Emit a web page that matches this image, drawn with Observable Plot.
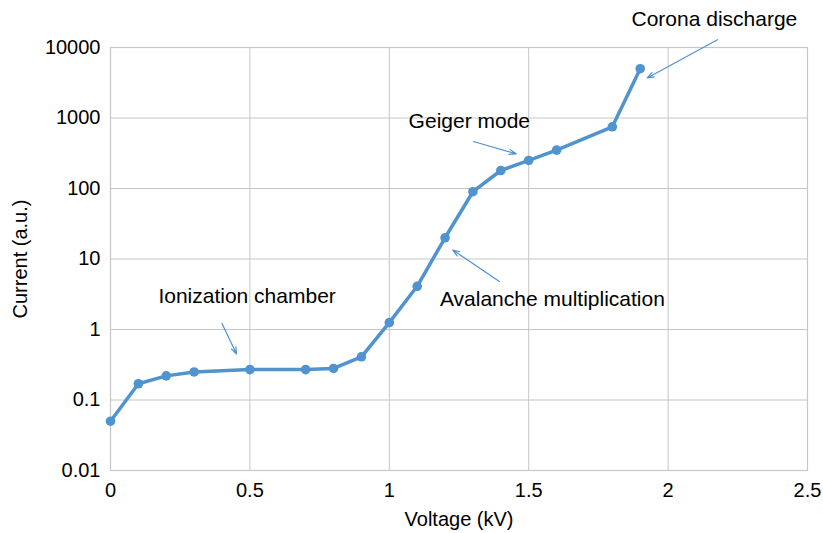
<!DOCTYPE html>
<html>
<head>
<meta charset="utf-8">
<script src="https://cdn.jsdelivr.net/npm/d3@7"></script>
<script src="https://cdn.jsdelivr.net/npm/@observablehq/plot@0.6"></script>
<style>
  html, body { margin: 0; padding: 0; background: #fff; }
  #chart svg { display: block; font-family: "Liberation Sans", Arial, Helvetica, sans-serif; }
</style>
</head>
<body>
<div id="chart"></div>
<script>
// Current–voltage characteristic of a gas-filled detector
const voltage = [0, 0.1, 0.2, 0.3, 0.5, 0.7, 0.8, 0.9, 1.0, 1.1, 1.2, 1.3, 1.4, 1.5, 1.6, 1.8, 1.9];
const current = [0.05, 0.17, 0.22, 0.25, 0.27, 0.27, 0.28, 0.41, 1.25, 4.1, 20, 90, 180, 250, 350, 750, 5000];

const xTicks = [0, 0.5, 1, 1.5, 2, 2.5];
const yTicks = [0.01, 0.1, 1, 10, 100, 1000, 10000];

// Region labels and their pointer arrows (data coordinates)
const labelText = ["Ionization chamber", "Geiger mode", "Avalanche multiplication", "Corona discharge"];
const labelX = [0.49, 1.287, 1.585, 2.166];
const labelY = [3.0, 890, 2.66, 25000];
const arrowX1 = [0.40, 1.302, 1.395, 2.177];
const arrowY1 = [1.22, 464, 4.8, 12900];
const arrowX2 = [0.452, 1.455, 1.228, 1.925];
const arrowY2 = [0.45, 310, 13.4, 3700];

const points = voltage.map((v, i) => ({v, c: current[i]}));
const labels = labelText.map((t, i) => ({t, x: labelX[i], y: labelY[i]}));
const arrows = arrowX1.map((x1, i) => ({x1, y1: arrowY1[i], x2: arrowX2[i], y2: arrowY2[i]}));

const blue = "#4f93cf";
const gridColor = "#c6c6c6";
const fmt = d => String(d);

const chart = Plot.plot({
  width: 823,
  height: 533,
  marginLeft: 110,
  marginRight: 16,
  marginTop: 47,
  marginBottom: 63,
  style: {fontSize: "20px", fontFamily: "Liberation Sans, Arial, Helvetica, sans-serif", color: "#000"},
  x: {domain: [0, 2.5]},
  y: {type: "log", domain: [0.01, 10000]},
  marks: [
    Plot.gridX(xTicks, {stroke: gridColor, strokeOpacity: 1, strokeWidth: 1}),
    Plot.gridY(yTicks, {stroke: gridColor, strokeOpacity: 1, strokeWidth: 1}),
    Plot.frame({stroke: gridColor, strokeWidth: 1.2}),
    Plot.axisX({ticks: xTicks, tickFormat: fmt, tickSize: 0, tickPadding: 12, fontSize: 20,
      label: "Voltage (kV)", labelAnchor: "center", labelOffset: 55, labelArrow: "none"}),
    Plot.axisY({ticks: yTicks, tickFormat: fmt, tickSize: 0, tickPadding: 10, fontSize: 20,
      label: "Current (a.u.)", labelAnchor: "center", labelOffset: 98, labelArrow: "none"}),
    Plot.line(points, {x: "v", y: "c", stroke: blue, strokeWidth: 3.5, strokeLinejoin: "round"}),
    Plot.dot(points, {x: "v", y: "c", r: 4.8, fill: blue}),
    Plot.arrow(arrows, {x1: "x1", y1: "y1", x2: "x2", y2: "y2", stroke: blue, strokeWidth: 1.2,
      headLength: 9, headAngle: 40}),
    Plot.text(labels, {x: "x", y: "y", text: "t", fontSize: 21, fill: "#000", textAnchor: "middle"})
  ]
});

document.getElementById("chart").appendChild(chart);
</script>
</body>
</html>
